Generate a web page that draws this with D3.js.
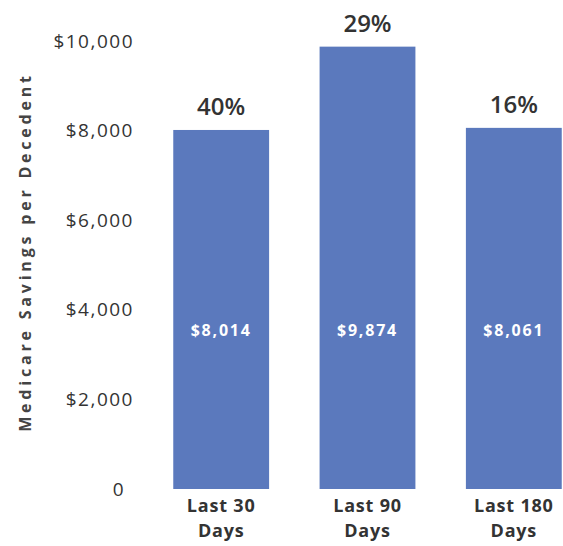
<!DOCTYPE html>
<html>
<head>
<meta charset="utf-8">
<script src="https://cdn.jsdelivr.net/npm/d3@7"></script>
<style>
  body { margin: 0; background: #fff; }
  text { font-family: "Open Sans", "Lato", sans-serif; }
</style>
</head>
<body>
<div id="chart"></div>
<script>
// data
const categories = ["Last 30 Days", "Last 90 Days", "Last 180 Days"];
const savings = [8014, 9874, 8061];
const savingsLabels = ["$8,014", "$9,874", "$8,061"];
const percents = ["40%", "29%", "16%"];
const yTicks = [0, 2000, 4000, 6000, 8000, 10000];

const W = 563, H = 546;

var svg = d3.select("#chart").append("svg")
    .attr("width", W)
    .attr("height", H);

var x = d3.scaleBand()
    .domain(categories)
    .range([144, 591])
    .paddingInner(0.345)
    .paddingOuter(0.2);

var y = d3.scaleLinear()
    .domain([0, 10000])
    .range([489, 41]);

// y axis, labels only
var yAxis = svg.append("g")
    .attr("transform", "translate(134,0)")
    .call(d3.axisLeft(y)
        .tickValues(yTicks)
        .tickSize(0)
        .tickPadding(0)
        .tickFormat(function(d) { return d === 0 ? "0" : "$" + d3.format(",")(d); }));
yAxis.select(".domain").remove();
yAxis.selectAll("text")
    .attr("fill", "#333")
    .style("font-size", "19px")
    .style("letter-spacing", "1.5px")
    .attr("dx", function(d) { return d === 0 ? -9 : 0; });

// y axis title
svg.append("text")
    .attr("transform", "translate(31," + 252 + ") rotate(-90)")
    .attr("text-anchor", "middle")
    .attr("fill", "#444")
    .style("font-size", "16px")
    .style("font-weight", "bold")
    .style("letter-spacing", "3.8px")
    .text("Medicare Savings per Decedent");

// bars
svg.selectAll(".bar")
    .data(savings)
    .enter()
    .append("rect")
    .attr("class", "bar")
    .attr("x", function(d, i) { return x(categories[i]); })
    .attr("width", x.bandwidth())
    .attr("y", function(d) { return y(d); })
    .attr("height", function(d) { return y(0) - y(d); })
    .attr("fill", "#5b79bd");

// value inside bars
svg.selectAll(".val")
    .data(savingsLabels)
    .enter()
    .append("text")
    .attr("class", "val")
    .attr("x", function(d, i) { return x(categories[i]) + x.bandwidth() / 2; })
    .attr("y", y(3535))
    .attr("dy", "0.35em")
    .attr("text-anchor", "middle")
    .attr("fill", "#fff")
    .style("font-size", "16px")
    .style("font-weight", "bold")
    .style("letter-spacing", "1.8px")
    .text(function(d) { return d; });

// percent above bars
svg.selectAll(".pct")
    .data(percents)
    .enter()
    .append("text")
    .attr("class", "pct")
    .attr("x", function(d, i) { return x(categories[i]) + x.bandwidth() / 2; })
    .attr("y", function(d, i) { return y(savings[i]) - 15; })
    .attr("text-anchor", "middle")
    .attr("fill", "#333")
    .style("font-size", "24px")
    .style("font-weight", "600")
    .text(function(d) { return d; });

// category labels, one text per line
var catX = function(d) { return x(d) + x.bandwidth() / 2; };

svg.selectAll(".cat1")
    .data(categories)
    .enter()
    .append("text")
    .attr("class", "cat1")
    .attr("x", catX)
    .attr("y", 512)
    .attr("text-anchor", "middle")
    .attr("fill", "#333")
    .style("font-size", "18px")
    .style("font-weight", "bold")
    .style("letter-spacing", "0.8px")
    .text(function(d) { return d.replace(" Days", ""); });

svg.selectAll(".cat2")
    .data(categories)
    .enter()
    .append("text")
    .attr("class", "cat2")
    .attr("x", catX)
    .attr("y", 537)
    .attr("text-anchor", "middle")
    .attr("fill", "#333")
    .style("font-size", "18px")
    .style("font-weight", "bold")
    .style("letter-spacing", "0.8px")
    .text("Days");
</script>
</body>
</html>
